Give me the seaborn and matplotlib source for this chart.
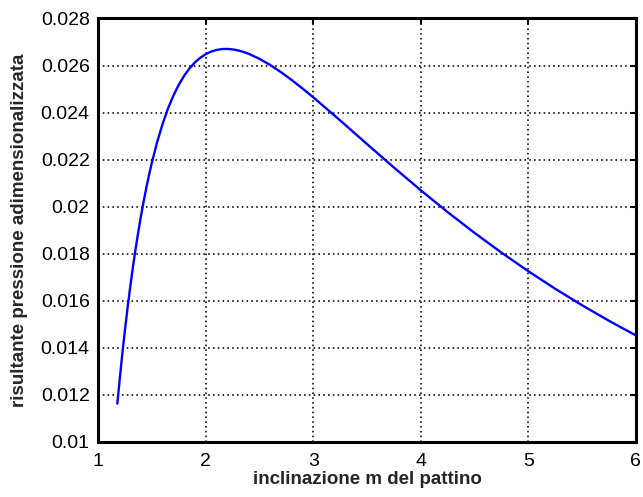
import matplotlib
matplotlib.use("Agg")
import matplotlib.pyplot as plt
import matplotlib.ticker as mticker
import numpy as np
import pandas as pd
import seaborn as sns

# slope m of the pad and the dimensionless resultant pressure
m_values = [1.18, 1.2, 1.225, 1.25, 1.275, 1.3, 1.325, 1.35, 1.375, 1.4,
            1.425, 1.45, 1.475, 1.5, 1.55, 1.6, 1.65, 1.7, 1.75, 1.8, 1.85,
            1.9, 1.95, 2.0, 2.05, 2.1, 2.15, 2.2, 2.25, 2.3, 2.35, 2.4, 2.5,
            2.6, 2.7, 2.8, 2.9, 3.0, 3.25, 3.5, 3.75, 4.0, 4.25, 4.5, 4.75,
            5.0, 5.25, 5.5, 5.75, 6.0]
w_values = [0.01163, 0.012585, 0.013703, 0.014742, 0.015708, 0.016608,
            0.017445, 0.018223, 0.018945, 0.019618, 0.020243, 0.020823,
            0.021361, 0.021860, 0.022752, 0.023514, 0.024164, 0.024714,
            0.025176, 0.025560, 0.025874, 0.026129, 0.026329, 0.026481,
            0.026590, 0.026661, 0.026699, 0.026706, 0.026688, 0.026645,
            0.026582, 0.026500, 0.026288, 0.026025, 0.025721, 0.025386,
            0.025028, 0.024653, 0.023670, 0.022664, 0.021668, 0.020699,
            0.019770, 0.018886, 0.018048, 0.017257, 0.016511, 0.015809,
            0.015149, 0.014528]

x_ticks = [1, 2, 3, 4, 5, 6]
y_ticks = [0.01, 0.012, 0.014, 0.016, 0.018, 0.02, 0.022, 0.024, 0.026, 0.028]

df = pd.DataFrame({"m": m_values, "W": w_values})

sns.set_style("white")
plt.rcParams["font.family"] = ["Liberation Sans", "DejaVu Sans"]

fig = plt.figure(figsize=(6.43, 4.97), dpi=100)
ax = fig.add_axes([0.1524, 0.1107, 0.8366, 0.8521])

sns.lineplot(data=df, x="m", y="W", ax=ax, color="#0000ff", linewidth=1.7,
             sort=False)
ax.lines[0].set_solid_joinstyle("round")

ax.set_xlim(1, 6)
ax.set_ylim(0.01, 0.028)
ax.set_xticks(x_ticks)
ax.set_yticks(y_ticks)
ax.yaxis.set_major_formatter(mticker.FuncFormatter(lambda v, p: f"{v:g}"))
ax.xaxis.set_major_formatter(mticker.FuncFormatter(lambda v, p: f"{v:g}"))

ax.grid(True, color="black", linestyle=(0, (1, 2)), linewidth=1.15)
for s in ax.spines.values():
    s.set_visible(True)
    s.set_color("black")
    s.set_linewidth(2.2)

ax.tick_params(direction="in", length=4, width=1.5, colors="black",
               labelsize=14, top=True, right=True)
ax.tick_params(axis="x", pad=8)
ax.tick_params(axis="y", pad=6)

ax.set_xlabel("inclinazione m del pattino", fontsize=13.5, fontweight="bold",
              labelpad=1)
ax.set_ylabel("risultante pressione adimensionalizzata", fontsize=13.5,
              fontweight="bold", labelpad=9)

fig.savefig("out.png", dpi=100)
